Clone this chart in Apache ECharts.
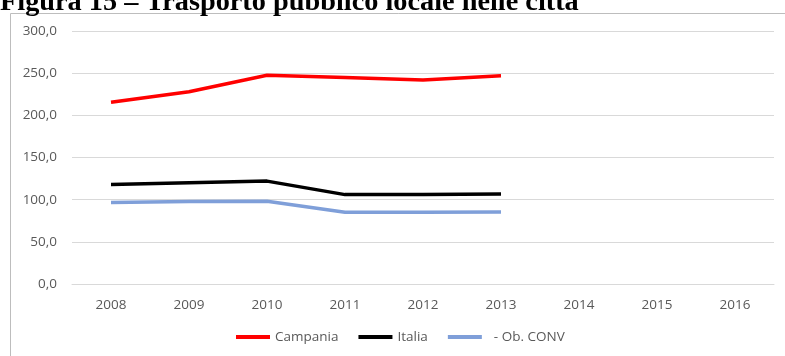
<!DOCTYPE html>
<html>
<head>
<meta charset="utf-8">
<script src="https://cdn.jsdelivr.net/npm/echarts@6/dist/echarts.min.js"></script>
<style>html,body{margin:0;padding:0;background:#fff}#c{width:785px;height:356px}</style>
</head>
<body>
<div id="c"></div>
<script>
var categories = ['2008','2009','2010','2011','2012','2013','2014','2015','2016'];
var campania = [215.5, 228.0, 247.5, 245.0, 241.8, 247.0, null, null, null];
var italia = [118.0, 120.2, 122.0, 106.0, 106.2, 106.7, null, null, null];
var obConv = [96.5, 97.8, 98.0, 85.0, 85.2, 85.5, null, null, null];
var seriesNames = ['Campania', 'Italia', '\u00a0\u00a0- Ob. CONV'];
var titleText = 'Figura 15 \u2013 Trasporto pubblico locale nelle città';

var chart = echarts.init(document.getElementById('c'));
var labelFont = {fontFamily: 'Open Sans', fontSize: 13.5, color: '#595959'};
chart.setOption({
  animation: false,
  graphic: [
    {type: 'rect', shape: {x: 10.5, y: 13.5, width: 800, height: 400}, style: {fill: 'none', stroke: '#bdbdbd', lineWidth: 1}},
    {type: 'text', x: 0, y: -11, style: {text: titleText, font: 'bold 28.3px "Liberation Serif"', fill: '#000'}}
  ],
  grid: {left: 72, right: 11, top: 31, bottom: 72},
  legend: {
    bottom: 7, left: 231,
    itemWidth: 34, itemHeight: 4, icon: 'rect', itemGap: 20,
    textStyle: labelFont,
    data: seriesNames
  },
  xAxis: {
    type: 'category', data: categories, boundaryGap: true,
    axisLine: {show: true, lineStyle: {color: '#d9d9d9'}},
    axisTick: {show: false},
    axisLabel: Object.assign({margin: 14}, labelFont)
  },
  yAxis: {
    type: 'value', min: 0, max: 300, interval: 50,
    axisLine: {show: false}, axisTick: {show: false},
    splitLine: {lineStyle: {color: '#d9d9d9'}},
    axisLabel: Object.assign({margin: 15, formatter: function(v){return v.toFixed(1).replace('.', ',');}}, labelFont)
  },
  series: [
    {name: seriesNames[0], type: 'line', data: campania, symbol: 'none', lineStyle: {color: '#ff0000', width: 3.5}, itemStyle: {color: '#ff0000'}},
    {name: seriesNames[1], type: 'line', data: italia, symbol: 'none', lineStyle: {color: '#000000', width: 3.5}, itemStyle: {color: '#000000'}},
    {name: seriesNames[2], type: 'line', data: obConv, symbol: 'none', lineStyle: {color: '#7f9fd9', width: 3.5}, itemStyle: {color: '#7f9fd9'}}
  ]
});
</script>
</body>
</html>
